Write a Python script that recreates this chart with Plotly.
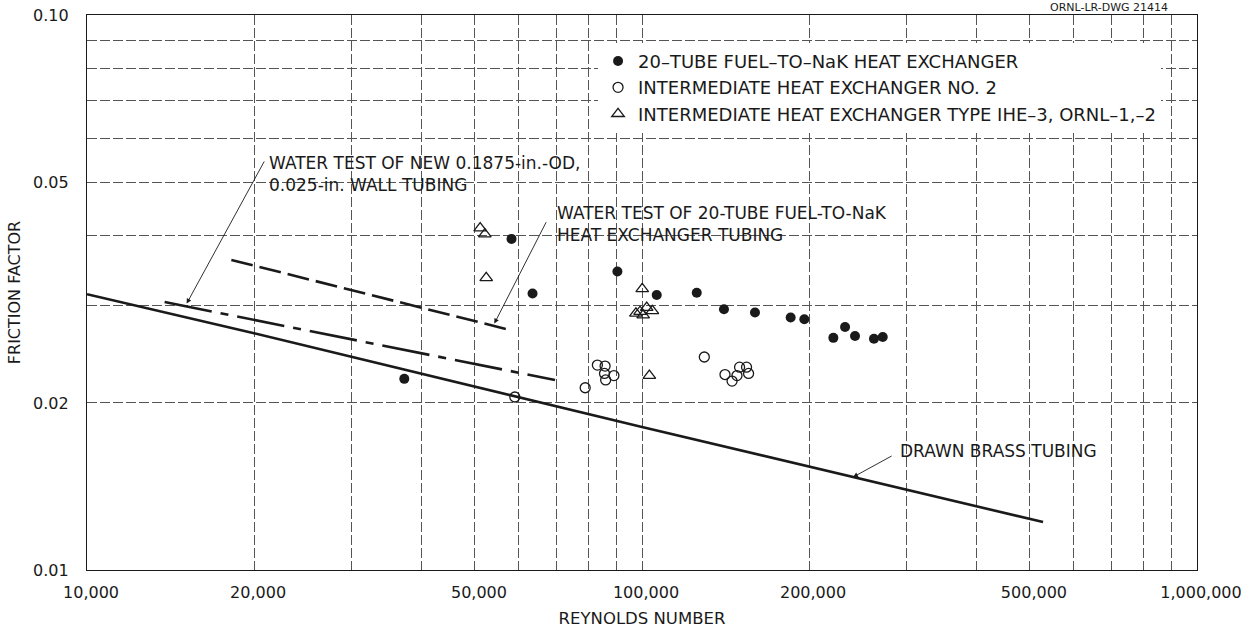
import math
import plotly.graph_objects as go

# Friction factor vs Reynolds number test data
fuel_nak_re = [37300, 58200, 63500, 90300, 106300, 125500, 140500, 159800,
               185300, 196100, 221200, 232200, 242000, 261800, 271500]
fuel_nak_f = [0.0221, 0.0395, 0.0315, 0.0345, 0.0313, 0.0316, 0.0295, 0.0291,
              0.0285, 0.0283, 0.0262, 0.0274, 0.0264, 0.0261, 0.0263]

ihx2_re = [59000, 79000, 83100, 85800, 85600, 86000, 89000, 129500,
           141100, 145300, 148300, 149900, 154300, 155600]
ihx2_f = [0.0205, 0.0213, 0.0234, 0.0233, 0.0226, 0.0220, 0.0224, 0.0242,
          0.0225, 0.0219, 0.0224, 0.0232, 0.0232, 0.0226]

ihe3_re = [51100, 52100, 52400, 100100, 101970, 104400, 99200, 100500, 97500, 103100]
ihe3_f = [0.0413, 0.0403, 0.0336, 0.0321, 0.0297, 0.0293, 0.0292, 0.0288, 0.0290, 0.0224]

# Reference curves
brass_re = [10000, 20000, 100000, 528000]
brass_f = [0.0314, 0.0267, 0.0181, 0.0122]
new_tube_re = [13800, 69700]
new_tube_f = [0.0304, 0.0220]
hx_tube_re = [18200, 57600]
hx_tube_f = [0.0362, 0.0271]

series_names = [
    "20–TUBE FUEL–TO–NaK HEAT EXCHANGER",
    "INTERMEDIATE HEAT EXCHANGER NO. 2",
    "INTERMEDIATE HEAT EXCHANGER TYPE IHE–3, ORNL–1,–2",
]

x_grid = [10000, 20000, 30000, 40000, 50000, 60000, 70000, 80000, 90000,
          100000, 200000, 300000, 400000, 500000, 600000, 700000, 800000, 900000, 1000000]
x_labeled = [10000, 20000, 50000, 100000, 200000, 500000, 1000000]
y_grid = [0.01, 0.02, 0.03, 0.04, 0.05, 0.06, 0.07, 0.08, 0.09, 0.10]
y_labeled = {0.01: "0.01", 0.02: "0.02", 0.05: "0.05", 0.10: "0.10"}

INK = "#1a1a1a"
FONT = "DejaVu Sans"

fig = go.Figure()

fig.add_trace(go.Scatter(x=brass_re, y=brass_f, mode="lines",
                         line=dict(color=INK, width=2.6), showlegend=False, hoverinfo="skip"))
fig.add_trace(go.Scatter(x=new_tube_re, y=new_tube_f, mode="lines",
                         line=dict(color=INK, width=2.6, dash="48px,9px,8px,9px"),
                         showlegend=False, hoverinfo="skip"))
fig.add_trace(go.Scatter(x=hx_tube_re, y=hx_tube_f, mode="lines",
                         line=dict(color=INK, width=2.6, dash="22px,7px"),
                         showlegend=False, hoverinfo="skip"))

fig.add_trace(go.Scatter(x=fuel_nak_re, y=fuel_nak_f, mode="markers", name=series_names[0],
                         marker=dict(symbol="circle", size=10, color=INK)))
fig.add_trace(go.Scatter(x=ihx2_re, y=ihx2_f, mode="markers", name=series_names[1],
                         marker=dict(symbol="circle-open", size=10, color=INK,
                                     line=dict(width=1.3, color=INK))))
fig.add_trace(go.Scatter(x=ihe3_re, y=ihe3_f, mode="markers", name=series_names[2],
                         marker=dict(symbol="triangle-up-open", size=11, color=INK,
                                     line=dict(width=1.3, color=INK))))


def lg(v):
    return math.log10(v)


# Callout labels (left edge, vertical middle) with leader arrows (tail -> head), data units
callouts = [
    ("WATER TEST OF NEW 0.1875-in.-OD,<br>0.025-in. WALL TUBING", (21100, 0.0517), (20930, 0.0548), (15120, 0.0302)),
    ("WATER TEST OF 20-TUBE FUEL-TO-NaK<br>HEAT EXCHANGER TUBING", (69700, 0.0421), (67400, 0.0426), (54190, 0.0278)),
    ("DRAWN BRASS TUBING", (289300, 0.01638), (283400, 0.0161), (240000, 0.0147)),
]
for text, (tx, ty), (ax, ay), (hx, hy) in callouts:
    fig.add_annotation(x=lg(tx), y=lg(ty), xref="x", yref="y", text=text, showarrow=False,
                       xanchor="left", yanchor="middle", align="left",
                       font=dict(family=FONT, size=17, color=INK))
    fig.add_annotation(x=lg(hx), y=lg(hy), ax=lg(ax), ay=lg(ay), xref="x", yref="y",
                       axref="x", ayref="y", text="", showarrow=True,
                       arrowhead=2, arrowsize=1.1, arrowwidth=0.9, arrowcolor=INK)

# Drawing number in the top-right corner
fig.add_annotation(x=0.921, y=1.0, xref="paper", yref="paper", yshift=8,
                   text="ORNL-LR-DWG 21414", showarrow=False, xanchor="center", yanchor="middle",
                   font=dict(family=FONT, size=11, color=INK))

axis_common = dict(
    type="log",
    showgrid=True, gridcolor="#555555", gridwidth=0.8, griddash="10px,3px",
    showline=True, linecolor=INK, linewidth=1.3, mirror=True,
    ticks="", zeroline=False,
    tickfont=dict(family=FONT, size=16, color=INK),
)

fig.update_xaxes(
    **axis_common,
    range=[4, 6],
    tickmode="array", tickvals=x_grid,
    ticktext=[f"{v:,}" if v in x_labeled else "" for v in x_grid],
    ticklabelstandoff=8, ticklabelshift=4,
    title=dict(text="REYNOLDS NUMBER", font=dict(family=FONT, size=16.5, color=INK), standoff=14),
)
fig.update_yaxes(
    **axis_common,
    range=[-2, -1],
    tickmode="array", tickvals=y_grid,
    ticktext=[y_labeled.get(round(v, 2), "") for v in y_grid],
    ticklabelstandoff=14,
    title=dict(text="FRICTION FACTOR", font=dict(family=FONT, size=16, color=INK), standoff=8),
)

fig.update_layout(
    width=1250, height=628,
    margin=dict(l=87, r=53, t=15, b=58, autoexpand=False),
    paper_bgcolor="white", plot_bgcolor="white",
    font=dict(family=FONT, size=16, color=INK),
    legend=dict(x=0.4604, y=0.95, xanchor="left", yanchor="top",
                bgcolor="white", borderwidth=0,
                font=dict(family=FONT, size=18, color=INK)),
)

fig.write_html("out.html")
